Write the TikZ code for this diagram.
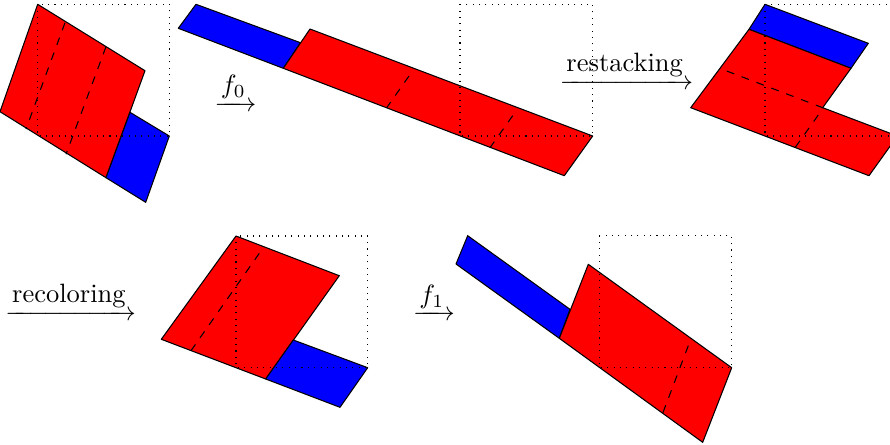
\documentclass[tikz,border=0pt]{standalone}
\usepackage{amsmath}
\tikzset{
  redpart/.style={fill=red,draw=black,line join=round},
  bluepart/.style={fill=blue,draw=black,line join=round},
  cutline/.style={dashed},
  unitsq/.style={dotted},
  maplabel/.style={anchor=base,inner sep=0pt}
}
\begin{document}
\begin{tikzpicture}[x=0.3774pt,y=-0.3774pt]
\useasboundingbox (0,0) rectangle (890,444);
\clip (0,0) rectangle (890,444);
% panel 1
\draw[redpart] (37.7,4.3) -- (145,70.7) -- (106,177.7) -- (0,111.7) -- cycle;
\draw[bluepart] (130,112.3) -- (169.3,136) -- (145.7,202.3) -- (106,177.7) -- cycle;
\draw[cutline] (65,22.7) -- (26,129);
\draw[cutline] (106,46.7) -- (66,154.3);
\draw[unitsq] (37.7,4.3) rectangle (169.3,136);
% panel 2
\draw[bluepart] (196,4.3) -- (300.5,42.7) -- (283.3,68.3) -- (178.3,28.3) -- cycle;
\draw[redpart] (310,29) -- (592.7,136) -- (564.3,175.7) -- (283.3,68.3) -- cycle;
\draw[cutline] (409,76) -- (386.7,107.7);
\draw[cutline] (512.7,115.7) -- (490,147.7);
\draw[unitsq] (460,4.3) rectangle (592.7,136);
% panel 3
\draw[bluepart] (765,4.3) -- (868.3,43.3) -- (851,68.3) -- (749,29.3) -- cycle;
\draw[redpart] (749,29.3) -- (851,68.3) -- (822.7,107.7) -- (897.4,136) -- (869,175.7) -- (690.7,107.7) -- cycle;
\draw[cutline] (726.7,71) -- (822.7,107.7);
\draw[cutline] (818.3,115) -- (795,147.7);
\draw[unitsq] (765,4.3) rectangle (897.7,136);
% panel 4
\draw[redpart] (236,236) -- (339.3,275.7) -- (265.7,379) -- (161.3,339.3) -- cycle;
\draw[bluepart] (293.3,340) -- (367.7,367.7) -- (340,407.3) -- (265.7,379) -- cycle;
\draw[cutline] (259.3,253.3) -- (191,350.7);
\draw[unitsq] (236,236) rectangle (367.7,367.7);
% panel 5
\draw[bluepart] (467.7,235.7) -- (570,309.3) -- (559.3,338.3) -- (456,264) -- cycle;
\draw[redpart] (588.3,264.3) -- (731.7,367.7) -- (702.7,442.3) -- (559.3,338.3) -- cycle;
\draw[cutline] (688.3,345.7) -- (662.7,413.3);
\draw[unitsq] (599.3,235.7) rectangle (731.7,367.7);
% labels
\node[maplabel] (f0) at (235.5,111.1) {$\xrightarrow{\textstyle f_0}$};
\node[maplabel] (rs) at (626.5,89.9) {$\xrightarrow{\mbox{restacking}}$};
\node[maplabel] (rc) at (70.7,320.9) {$\xrightarrow{\mbox{recoloring}}$};
\node[maplabel] (f1) at (434,320.9) {$\xrightarrow{\textstyle f_1}$};
\end{tikzpicture}
\end{document}
